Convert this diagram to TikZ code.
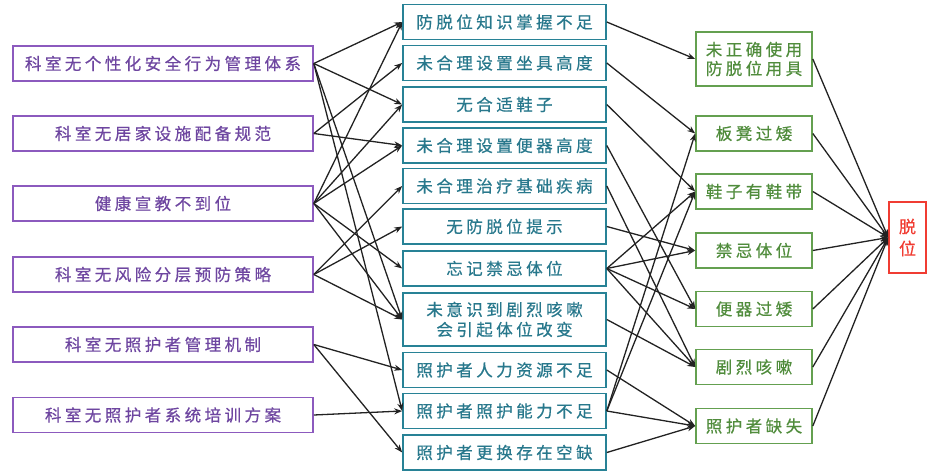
\documentclass[tikz,border=0pt]{standalone}
\usepackage{fontspec}
\newfontfamily\cjk[LetterSpace=21,FakeBold=0.6]{Noto Sans CJK SC}
\newfontfamily\cjkn[FakeBold=0.6]{Noto Sans CJK SC}
\usetikzlibrary{arrows.meta}
\definecolor{purpB}{RGB}{140,90,190}
\definecolor{purpT}{RGB}{110,70,160}
\definecolor{tealB}{RGB}{40,130,150}
\definecolor{tealT}{RGB}{40,120,140}
\definecolor{grnB}{RGB}{100,160,80}
\definecolor{grnT}{RGB}{80,140,60}
\definecolor{redB}{RGB}{240,60,50}
\definecolor{lineC}{RGB}{34,34,34}
\begin{document}
\begin{tikzpicture}[x=1pt,y=-1pt,
  box/.style={draw,line width=1.6pt,inner sep=0pt,align=center,font=\cjk\fontsize{16.5}{20}\selectfont},
  lbox/.style={box,draw=purpB,text=purpT,minimum width=300pt,minimum height=35pt},
  mbox/.style={box,draw=tealB,text=tealT,minimum width=203pt,minimum height=35pt},
  rbox/.style={box,draw=grnB,text=grnT,minimum width=116pt,minimum height=35pt},
  fbox/.style={draw=redB,text=redB,line width=1.6pt,inner sep=0pt,align=center,
    minimum width=37pt,minimum height=71pt,font=\cjkn\fontsize{17}{22}\selectfont},
  arr/.style={-{Stealth[length=8pt,width=6pt]},line width=1.3pt,draw=lineC}
]
\useasboundingbox (0,0) rectangle (930,474);
% left column
\node[lbox] (L1) at (163,63.5) {科室无个性化安全行为管理体系};
\node[lbox] (L2) at (163,133.5) {科室无居家设施配备规范};
\node[lbox] (L3) at (163,203.5) {健康宣教不到位};
\node[lbox] (L4) at (163,274.5) {科室无风险分层预防策略};
\node[lbox] (L5) at (163,344.5) {科室无照护者管理机制};
\node[lbox] (L6) at (163,415) {科室无照护者系统培训方案};
% middle column
\node[mbox] (M1) at (504.5,22) {防脱位知识掌握不足};
\node[mbox] (M2) at (504.5,63) {未合理设置坐具高度};
\node[mbox] (M3) at (504.5,104.5) {无合适鞋子};
\node[mbox] (M4) at (504.5,145.5) {未合理设置便器高度};
\node[mbox] (M5) at (504.5,186) {未合理治疗基础疾病};
\node[mbox] (M6) at (504.5,226.5) {无防脱位提示};
\node[mbox] (M7) at (504.5,268.5) {忘记禁忌体位};
\node[mbox,minimum height=53pt] (M8) at (504.5,319.5) {未意识到剧烈咳嗽\\会引起体位改变};
\node[mbox] (M9) at (504.5,370) {照护者人力资源不足};
\node[mbox] (M10) at (504.5,411) {照护者照护能力不足};
\node[mbox] (M11) at (504.5,452.5) {照护者更换存在空缺};
% right column
\node[rbox,minimum height=54pt,font=\cjk\fontsize{16.5}{19}\selectfont] (R1) at (754,59) {未正确使用\\防脱位用具};
\node[rbox] (R2) at (754,133.5) {板凳过矮};
\node[rbox] (R3) at (754,191.5) {鞋子有鞋带};
\node[rbox] (R4) at (754,250.5) {禁忌体位};
\node[rbox] (R5) at (754,309) {便器过矮};
\node[rbox] (R6) at (754,367) {剧烈咳嗽};
\node[rbox] (R7) at (754,426) {照护者缺失};
% final
\node[fbox] (F) at (907.5,237.5) {脱\\位};
% connectors
\foreach \a/\b in {L1/M1,L1/M3,L1/M8,L1/M10,L2/M2,L2/M4,L3/M1,L3/M3,L3/M4,L3/M7,L3/M8,
  L4/M5,L4/M6,L4/M8,L5/M9,L5/M11,L6/M10}
  \draw[arr] (\a.east) -- (\b.west);
\foreach \a/\b in {M1/R1,M2/R2,M3/R3,M4/R5,M5/R6,M6/R4,M7/R3,M7/R4,M7/R5,M7/R6,
  M8/R6,M9/R7,M10/R2,M10/R3,M10/R7,M11/R7}
  \draw[arr] (\a.east) -- (\b.west);
\foreach \r in {R1,R2,R3,R4,R5,R6,R7}
  \draw[arr] (\r.east) -- (F.west);
\end{tikzpicture}
\end{document}
